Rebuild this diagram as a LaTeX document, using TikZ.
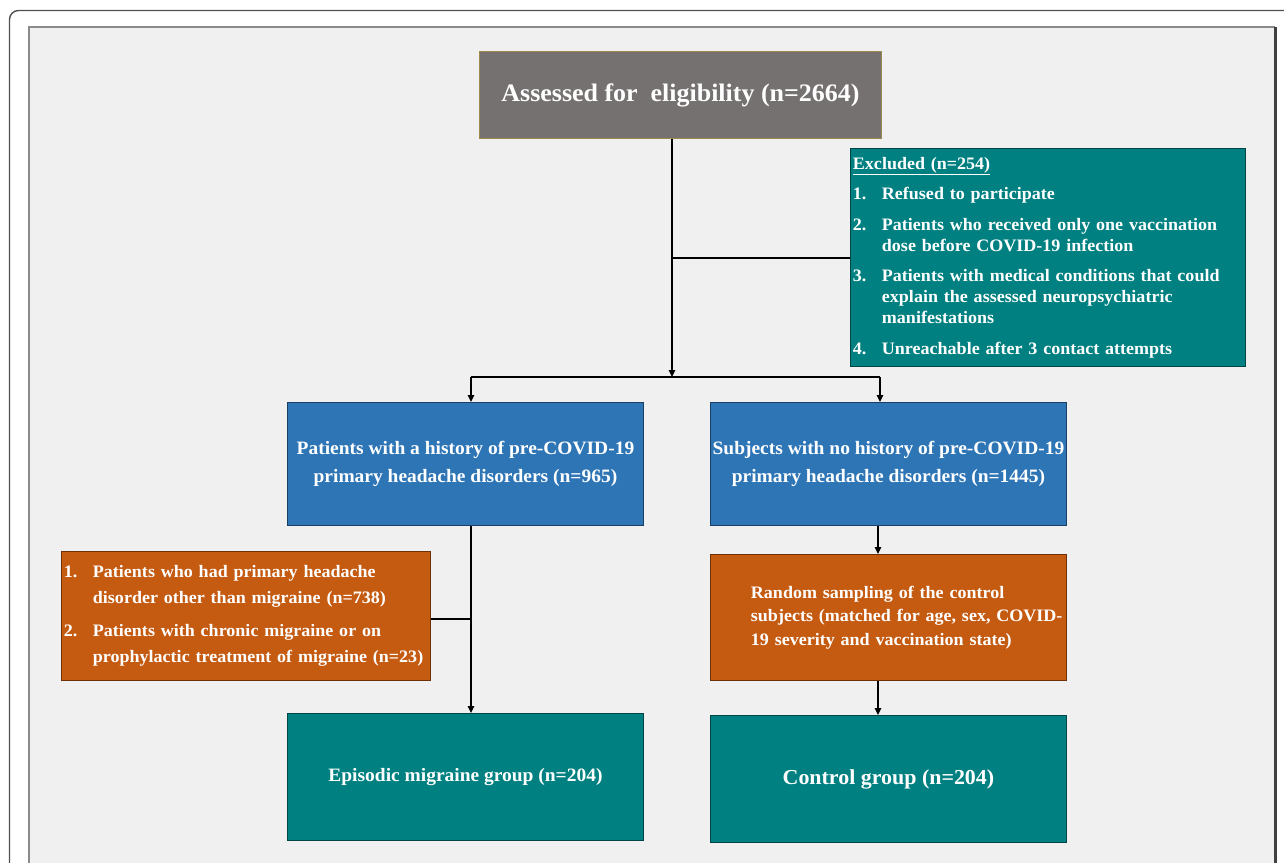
\documentclass[tikz,border=0pt]{standalone}
\usepackage{fontspec}
\setmainfont{Liberation Serif}[FakeStretch=1.03]
\usetikzlibrary{arrows.meta}
\definecolor{panel}{HTML}{F0F0F0}
\definecolor{paneledge}{HTML}{8A8A8A}
\definecolor{paneldark}{HTML}{404040}
\definecolor{frameline}{HTML}{505050}
\definecolor{titlegray}{HTML}{767171}
\definecolor{titleedge}{HTML}{9C8A4C}
\definecolor{tealbox}{HTML}{008080}
\definecolor{bluebox}{HTML}{2E75B6}
\definecolor{orangebox}{HTML}{C55A11}
\begin{document}
\begin{tikzpicture}[x=1pt,y=-1pt,
  box/.style={draw=#1!55!black, fill=#1, line width=0.9pt, text=white, inner sep=2pt, anchor=north west},
  conn/.style={line width=1.4pt, black},
  arr/.style={conn, -{Triangle[length=7pt,width=6.5pt]}}]
\useasboundingbox (0,0) rectangle (1284,862);
\begin{scope}
\clip (0,0) rectangle (1284,862);
\fill[white] (0,0) rectangle (1284,862);
\draw[frameline, line width=1.4pt, rounded corners=9pt] (9.5,920) -- (9.5,10.5) -- (1320,10.5);
\fill[panel] (29,27) rectangle (1275,880);
\draw[paneledge, line width=2pt] (29,880) -- (29,27) -- (1275,27);
\draw[paneldark, line width=3pt] (1275,27) -- (1275,880);
\end{scope}

% boxes
\node[box=titlegray, draw=titleedge, minimum width=402, minimum height=87,
      font=\bfseries\fontsize{25.2}{29}\selectfont] (title) at (479,51)
      {Assessed for\ \ eligibility (n=2664)};

\node[box=tealbox, minimum width=395, minimum height=218, text width=390, align=left,
      font=\bfseries\fontsize{17.5}{21}\selectfont] (excl) at (850,148)
      {\underline{Excluded (n=254)}\\[9.5pt]
       \makebox[29pt][l]{1.}Refused to participate\\[9.5pt]
       \makebox[29pt][l]{2.}Patients who received only one vaccination\\
       \hspace*{29pt}dose before COVID-19 infection\\[9.5pt]
       \makebox[29pt][l]{3.}Patients with medical conditions that could\\
       \hspace*{29pt}explain the assessed neuropsychiatric\\
       \hspace*{29pt}manifestations\\[9.5pt]
       \makebox[29pt][l]{4.}Unreachable after 3 contact attempts};

\node[box=bluebox, minimum width=356, minimum height=123, align=center,
      font=\bfseries\fontsize{18.9}{28}\selectfont] (pl) at (287,402)
      {Patients with a history of pre-COVID-19\\primary headache disorders (n=965)};

\node[box=bluebox, minimum width=356, minimum height=123, align=center,
      font=\bfseries\fontsize{18.9}{28}\selectfont] (pr) at (710,402)
      {Subjects with no history of pre-COVID-19\\primary headache disorders (n=1445)};

\node[box=orangebox, minimum width=369, minimum height=129, text width=364, align=left,
      font=\bfseries\fontsize{17.5}{25.5}\selectfont] (ol) at (61,551)
      {\makebox[29pt][l]{1.}Patients who had primary headache\\
       \hspace*{29pt}disorder other than migraine (n=738)\\[8pt]
       \makebox[29pt][l]{2.}Patients with chronic migraine or on\\
       \hspace*{29pt}prophylactic treatment of migraine (n=23)};

\node[box=orangebox, minimum width=356, minimum height=126, text width=351, align=left,
      font=\bfseries\fontsize{17.5}{23.5}\selectfont] (rs) at (710,554)
      {\hspace*{38pt}Random sampling of the control\\
       \hspace*{38pt}subjects (matched for age, sex, COVID-\\
       \hspace*{38pt}19 severity and vaccination state)};

\node[box=tealbox, minimum width=356, minimum height=127,
      font=\bfseries\fontsize{18.9}{22}\selectfont] (em) at (287,713)
      {Episodic migraine group (n=204)};

\node[box=tealbox, minimum width=356, minimum height=127,
      font=\bfseries\fontsize{21.3}{25}\selectfont] (cg) at (710,715)
      {Control group (n=204)};

% connectors
\coordinate (j1) at (672,377);
\coordinate (jl) at (471,377);
\coordinate (jr) at (880,377);
\coordinate (b1) at (672,258);
\coordinate (b2) at (471,619);
\coordinate (jr2) at (878,377);

\draw[arr] (title.south -| j1) -- (j1);
\draw[conn] (b1) -- (b1 -| excl.west);
\draw[conn] (jl) -- (jr);
\draw[arr] (jl) -- (jl |- pl.north);
\draw[arr] (jr) -- (jr |- pr.north);
\draw[arr] (pl.south -| jl) -- (em.north -| jl);
\draw[conn] (b2 -| ol.east) -- (b2);
\draw[arr] (pr.south -| jr2) -- (rs.north -| jr2);
\draw[arr] (rs.south -| jr2) -- (cg.north -| jr2);
\end{tikzpicture}
\end{document}
